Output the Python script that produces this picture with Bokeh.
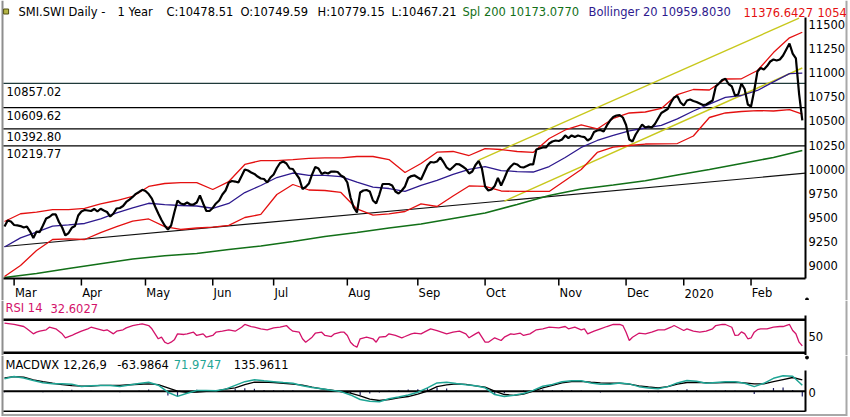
import pandas as pd
from bokeh.plotting import figure
from bokeh.models import Range1d, Grid
from bokeh.layouts import column
from bokeh.embed import file_html
from bokeh.resources import INLINE
from bokeh.core.properties import value

FONT = "DejaVu Sans"
FS = "11.5px"

# ---------------- data ----------------
holidays = ["2019-04-19", "2019-04-22", "2019-05-01", "2019-05-30", "2019-06-10",
            "2019-12-24", "2019-12-25", "2019-12-26", "2019-12-31", "2020-01-01", "2020-01-02"]
dates = [d for d in pd.bdate_range("2019-02-26", "2020-02-25") if d.strftime("%Y-%m-%d") not in holidays]

month_labels = ["Mar", "Apr", "May", "Jun", "Jul", "Aug", "Sep", "Oct", "Nov", "Dec", "2020", "Feb"]

close = [9399, 9460, 9450, 9415, 9410, 9404, 9389, 9399, 9348, 9282,
         9348, 9343, 9410, 9481, 9496, 9522, 9522, 9445, 9389, 9308,
         9333, 9386, 9404, 9511, 9552, 9567, 9562, 9557, 9578, 9552,
         9580, 9562, 9547, 9501, 9532, 9583, 9588, 9608, 9649, 9674,
         9700, 9732, 9751, 9773, 9761, 9730, 9684, 9603, 9532, 9466,
         9410, 9369, 9410, 9542, 9664, 9634, 9623, 9644, 9623, 9623,
         9644, 9715, 9634, 9557, 9557, 9588, 9634, 9664, 9725, 9766,
         9847, 9863, 9857, 9847, 9913, 9980, 9969, 9949, 9934, 9908,
         9888, 9883, 9847, 9898, 9929, 9995, 10046, 10061, 10041, 9990,
         9985, 9934, 9888, 9781, 9801, 9837, 9929, 10005, 9990, 9934,
         9949, 9939, 9959, 9959, 9954, 9919, 9900, 9847, 9695, 9593,
         9542, 9746, 9766, 9771, 9756, 9664, 9634, 9725, 9832, 9832,
         9832, 9817, 9756, 9735, 9766, 9807, 9893, 9913, 9919, 9898,
         9878, 9949, 10020, 10056, 10051, 10061, 10102, 10056, 10000, 9975,
         10005, 10036, 10031, 10010, 9987, 9939, 9959, 10025, 10066, 9990,
         9807, 9766, 9776, 9812, 9893, 9817, 9888, 9969, 10010, 10041,
         10031, 10005, 10000, 10015, 10031, 10031, 10183, 10193, 10204, 10204,
         10244, 10265, 10275, 10270, 10285, 10326, 10300, 10326, 10310, 10326,
         10316, 10310, 10275, 10295, 10361, 10377, 10382, 10366, 10428, 10478,
         10514, 10529, 10534, 10509, 10433, 10285, 10265, 10336, 10387, 10438,
         10407, 10417, 10407, 10443, 10499, 10555, 10575, 10596, 10662, 10713,
         10728, 10662, 10631, 10682, 10692, 10677, 10667, 10652, 10636, 10641,
         10662, 10682, 10825, 10855, 10891, 10903, 10850, 10825, 10733, 10743,
         10855, 10799, 10641, 10621, 10784, 10977, 11013, 10998, 11033, 11079,
         11099, 11089, 11099, 11140, 11201, 11262, 11160, 11110, 10750, 10479]

band_day = list(range(0, 250, 5)) + [249]
boll_upper = [9450, 9529, 9545, 9572, 9572, 9583, 9630, 9664, 9705, 9807,
              9837, 9847, 9847, 9776, 9857, 10031, 10071, 10071, 10081, 10092,
              10097, 10097, 10112, 10112, 10081, 9949, 10041, 10156, 10163, 10122,
              10193, 10183, 10163, 10153, 10295, 10382, 10433, 10392, 10499, 10555,
              10565, 10601, 10743, 10794, 10789, 10901, 10903, 10987, 11170, 11320,
              11377]
boll_mid = [9191, 9284, 9343, 9404, 9415, 9430, 9478, 9537, 9588, 9636,
            9623, 9613, 9608, 9585, 9634, 9745, 9817, 9898, 9944, 9919,
            9919, 9908, 9850, 9801, 9786, 9756, 9817, 9868, 9929, 9980,
            10010, 9969, 9959, 9954, 10010, 10102, 10204, 10275, 10326, 10372,
            10402, 10428, 10495, 10575, 10646, 10713, 10733, 10784, 10872, 10955,
            10960]
boll_lower = [8890, 9002, 9155, 9267, 9274, 9267, 9338, 9399, 9455, 9476,
              9399, 9369, 9384, 9394, 9410, 9491, 9522, 9725, 9827, 9771,
              9766, 9746, 9578, 9516, 9527, 9552, 9630, 9603, 9710, 9812,
              9807, 9761, 9756, 9756, 9756, 9868, 9980, 10153, 10207, 10224,
              10239, 10241, 10244, 10321, 10509, 10555, 10570, 10580, 10575, 10590,
              10543]

spline_day = list(range(0, 250, 10)) + [249]
spline200 = [8880, 8921, 8972, 9020, 9069, 9102, 9125, 9165, 9201, 9247,
             9298, 9338, 9384, 9425, 9481, 9537, 9623, 9715, 9781, 9822,
             9865, 9924, 9980, 10041, 10102, 10173]

levels = [10857.02, 10609.62, 10392.80, 10219.77]
level_labels = ["10857.02", "10609.62", "10392.80", "10219.77"]
level_colors = ["#1f3a3a", "#000000", "#000000", "#000000"]

trend_day = [0, 250]
trend_val = [9196, 9942]
chan_up_day = [148, 248]
chan_up_val = [10076, 11520]
chan_lo_day = [156, 249]
chan_lo_val = [9657, 11013]

price_ticks = [9000, 9250, 9500, 9750, 10000, 10250, 10500, 10750, 11000, 11250, 11500]

rsi_day = [0, 3, 6, 7, 9, 10, 11, 13, 14, 16, 18, 19, 21, 22, 24, 26, 27, 29, 31, 32,
           34, 35, 37, 38, 40, 42, 43, 45, 46, 47, 48, 49, 50, 51, 52, 53, 54, 56, 57, 59,
           60, 62, 63, 65, 66, 68, 70, 72, 74, 75, 77, 78, 80, 82, 84, 86, 88, 89, 90, 92,
           93, 94, 95, 96, 97, 99, 100, 102, 103, 105, 106, 107, 108, 109, 110, 111, 113, 115, 116, 117,
           119, 120, 122, 124, 125, 127, 128, 130, 131, 133, 135, 138, 140, 142, 144, 145, 147, 148, 150, 151,
           153, 155, 156, 158, 159, 161, 162, 164, 166, 168, 170, 173, 175, 176, 178, 180, 181, 182, 184, 186,
           188, 190, 192, 193, 194, 195, 196, 198, 200, 202, 204, 206, 208, 209, 212, 213, 215, 217, 219, 221,
           222, 224, 225, 227, 228, 229, 230, 231, 232, 233, 234, 235, 236, 238, 240, 242, 243, 245, 246, 247,
           248, 249]
rsi = [73.8, 71.5, 67.8, 63.6, 54.5, 57.5, 59.3, 61.8, 66.5, 63.6, 54.5, 47.3, 51.5, 54.5, 59.3, 63.6, 66.5, 63.6, 60.5, 61.8,
       54.5, 59.3, 61.8, 65.4, 69.6, 71.5, 72.7, 69.6, 63.6, 54.5, 45.5, 48.4, 39.3, 36.4, 39.3, 43.6, 54.5, 53.3, 54.5, 57.5,
       51.5, 54.5, 48.4, 51.5, 57.5, 59.3, 61.8, 59.3, 66.5, 71.5, 67.8, 66.5, 63.6, 61.8, 65.4, 66.5, 69.6, 63.6, 59.3, 57.5,
       45.5, 39.3, 43.6, 48.4, 55.6, 57.5, 51.5, 49.6, 54.5, 57.5, 57.5, 51.5, 39.3, 33.3, 30.2, 45.5, 48.4, 45.5, 39.3, 48.4,
       49.6, 54.5, 51.5, 47.3, 49.6, 54.5, 55.6, 54.5, 57.5, 63.6, 60.5, 54.5, 57.5, 59.3, 54.5, 47.3, 54.5, 57.5, 39.3, 39.3,
       47.3, 42.4, 48.4, 54.5, 53.3, 55.6, 51.5, 54.5, 61.8, 63.6, 66.5, 65.4, 67.8, 63.6, 66.5, 61.8, 63.6, 54.5, 59.3, 63.6,
       67.8, 71.5, 71.5, 69.6, 57.5, 42.4, 48.4, 55.6, 54.5, 57.5, 61.8, 61.8, 66.5, 69.6, 60.5, 63.6, 59.3, 57.5, 59.3, 63.6,
       69.6, 71.5, 71.5, 66.5, 51.5, 52.0, 58.0, 55.0, 45.5, 47.0, 57.5, 62.0, 63.6, 63.6, 66.5, 67.8, 67.8, 71.5, 60.5, 54.5,
       39.3, 32.6]

macd_day = list(range(0, 250, 3))
macd = [149, 177, 160, 130, 103, 89, 89, 85, 57, 66,
        69, 69, 57, 75, 92, 108, 72, -12, -62, -24,
        8, 8, 5, 25, 70, 115, 137, 125, 115, 105,
        96, 65, 45, 29, 12, -5, -45, -100, -122, -128,
        -92, -70, -45, -12, 40, 100, 108, 92, 78, 65,
        41, -40, -65, -48, -28, 10, 60, 82, 115, 125,
        125, 98, 85, 85, 98, 88, 55, 38, 29, 55,
        100, 129, 120, 95, 105, 115, 115, 96, 55, 95,
        155, 185, 180, 72]
macd_signal = [161, 175, 170, 137, 115, 96, 80, 68, 62, 60,
               69, 69, 69, 78, 84, 88, 80, 40, 0, -15,
               -10, -3, 2, 25, 41, 80, 108, 110, 105, 96,
               85, 72, 50, 29, 12, -5, -24, -55, -95, -112,
               -100, -80, -64, -35, 0, 55, 75, 88, 82, 65,
               50, 0, -40, -50, -35, 0, 40, 70, 100, 115,
               118, 108, 100, 96, 96, 85, 65, 52, 41, 55,
               85, 105, 108, 100, 100, 105, 108, 100, 89, 89,
               115, 140, 165, 136]
macd_hist = [a - b for a, b in zip(macd, macd_signal)]

day = list(range(len(close)))
month_ticks = [k for k in range(1, len(dates)) if dates[k].month != dates[k - 1].month]

# ---------------- layout constants (pixels of the page) ----------------
W = 849
H_MAIN, H_RSI, H_MACD = 300, 55, 61
X0, DX = 4.0, 3.204          # px of first day, px per trading day


def dx(px):                   # page x pixel -> day position
    return (px - X0) / DX


AX = dx(805)                  # right axis
LEFT = dx(3)
TXT = dx(808)


def pv(py):                   # main panel pixel -> price
    return 10000 + (167 - py) * 10.18


def rv(py):                   # RSI panel page pixel -> RSI value
    return 80 + (319.3 - py) / 0.55


def mv(py):                   # MACD panel page pixel -> MACD value
    return (390.7 - py) / 0.083


RED = "#e41010"
NAVY = "#2e1a8e"
GREEN = "#127018"
YELLOW = "#c8c81c"
RSI_COL = "#d3126a"
TEAL = "#1fa595"
GRAY = "#8e8e8e"

xr = Range1d(dx(0), dx(W))


def base_fig(h, y0, y1):
    f = figure(width=W, height=h, x_range=xr, y_range=Range1d(y0, y1),
               x_axis_location=None, y_axis_location=None,
               toolbar_location=None, output_backend="svg",
               min_border=0, outline_line_color=None,
               background_fill_color="white", border_fill_color="white")
    for g in list(f.center):
        if isinstance(g, Grid):
            g.visible = False
    return f


def texts(f, xs, ys, labels, color="black", align="left"):
    f.text(x=xs, y=ys, text=labels, text_color=color, text_font=value(FONT),
           text_font_size=value(FS), text_align=align, text_baseline="middle")


def hseg(f, y, x0, x1, color="black", width=1.0):
    f.segment(x0=[x0], y0=[y], x1=[x1], y1=[y], line_color=color, line_width=width)


def vseg(f, x, y0, y1, color="black", width=1.0):
    f.segment(x0=[x], y0=[y0], x1=[x], y1=[y1], line_color=color, line_width=width)


# ---------------- main price panel ----------------
p = base_fig(H_MAIN, pv(H_MAIN), pv(0))
vseg(p, dx(2), pv(0), pv(H_MAIN), GRAY, 2)
vseg(p, dx(846), pv(0), pv(H_MAIN), "#a8a8a8", 2)

for lv, col in zip(levels, level_colors):
    hseg(p, lv, LEFT, AX, col, 1.2)
texts(p, [dx(6)] * len(levels), [lv - 8 * 10.18 for lv in levels], level_labels)

p.line(trend_day, trend_val, line_color="#101010", line_width=1.2)
p.line(chan_up_day, chan_up_val, line_color=YELLOW, line_width=1.4)
p.line(chan_lo_day, chan_lo_val, line_color=YELLOW, line_width=1.4)
p.line(spline_day, spline200, line_color=GREEN, line_width=1.6)
p.line(band_day, boll_upper, line_color=RED, line_width=1.3)
p.line(band_day, boll_lower, line_color=RED, line_width=1.3)
p.line(band_day, boll_mid, line_color=NAVY, line_width=1.3)
p.line(day, close, line_color="black", line_width=2.2)

# axes drawn by hand
hseg(p, pv(278), LEFT, AX, "black", 2)
vseg(p, AX, pv(278), pv(17), "black", 2)
p.segment(x0=month_ticks, y0=[pv(278)] * len(month_ticks), x1=month_ticks,
          y1=[pv(285)] * len(month_ticks), line_color="black", line_width=1.5)
texts(p, [t + 0.25 for t in month_ticks], [pv(292.5)] * len(month_ticks), month_labels)
# tick labels sit as in the reference (slightly compressed label spacing)
label_y = [pv(265 - (v - 9000) * 0.0964) for v in price_ticks]
texts(p, [TXT] * len(price_ticks), label_y, [str(v) for v in price_ticks])
p.scatter([dx(806.5)], [pv(299)], marker="circle", size=3, color="black")

# header
p.scatter([dx(5.6)], [pv(11)], marker="square", size=5, fill_color="#b5b545", line_color="#505010")
ty = pv(11.5)
texts(p, [dx(18)], [ty], ["SMI.SWI Daily -"])
texts(p, [dx(117)], [ty], ["1 Year"])
texts(p, [dx(166)], [ty], ["C:10478.51"])
texts(p, [dx(240)], [ty], ["O:10749.59"])
texts(p, [dx(317)], [ty], ["H:10779.15"])
texts(p, [dx(391)], [ty], ["L:10467.21"])
texts(p, [dx(462)], [ty], ["Spl 200 10173.0770"], GREEN)
texts(p, [dx(588)], [ty], ["Bollinger 20 10959.8030"], NAVY)
texts(p, [dx(743)], [ty], ["11376.6427"], RED)
texts(p, [dx(817)], [ty], ["1054"], RED)

# ---------------- RSI panel ----------------
r = base_fig(H_RSI, rv(300 + H_RSI), rv(300))
vseg(r, dx(2), rv(300), rv(300 + H_RSI), GRAY, 2)
vseg(r, dx(846), rv(300), rv(300 + H_RSI), "#a8a8a8", 2)
hseg(r, 80, LEFT, AX, "black", 2.5)
hseg(r, 20, LEFT, AX, "black", 2.5)
vseg(r, AX, rv(315), rv(355), "black", 2)
r.line(rsi_day, rsi, line_color=RSI_COL, line_width=1.3)
texts(r, [TXT], [50], ["50"])
texts(r, [dx(5)], [rv(307.5)], ["RSI 14"], RSI_COL)
texts(r, [dx(50)], [rv(307.5)], ["32.6027"], RSI_COL)

# ---------------- MACD panel ----------------
m = base_fig(H_MACD, mv(355 + H_MACD), mv(355))
vseg(m, dx(2), mv(355), mv(355 + H_MACD), GRAY, 2)
vseg(m, dx(846), mv(355), mv(355 + H_MACD), "#a8a8a8", 2)
hseg(m, mv(414.5), dx(2), dx(846), "#a8a8a8", 2)
m.segment(x0=macd_day, y0=[0] * len(macd_day), x1=macd_day, y1=macd_hist,
          line_color="#1c1c62", line_width=1.2)
hseg(m, 0, LEFT, AX, "black", 2)
hseg(m, mv(410.7), LEFT, AX, "black", 1.5)
vseg(m, AX, mv(370), mv(411), "black", 2)
m.scatter([dx(806.5)], [mv(357)], marker="circle", size=3, color="black")
m.line(macd_day, macd_signal, line_color="black", line_width=1.3)
m.line(macd_day, macd, line_color=TEAL, line_width=1.5)
texts(m, [TXT], [mv(391.7)], ["0"])
texts(m, [dx(5)], [mv(364)], ["MACDWX 12,26,9"])
texts(m, [dx(116.7)], [mv(364)], ["-63.9864"])
texts(m, [dx(173.3)], [mv(364)], ["71.9747"], TEAL)
texts(m, [dx(233.3)], [mv(364)], ["135.9611"])

layout = column(p, r, m, spacing=0)
open("out.html", "w").write(file_html(layout, INLINE))
